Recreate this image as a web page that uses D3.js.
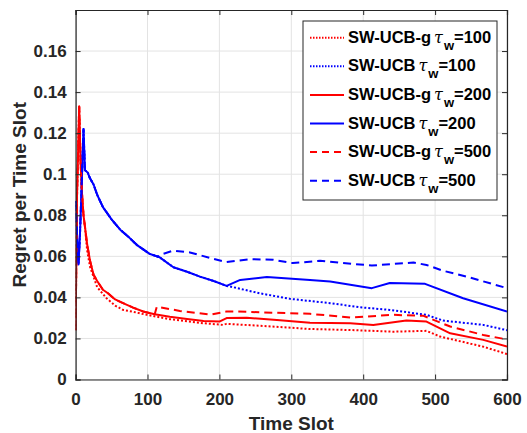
<!DOCTYPE html>
<html><head><meta charset="utf-8">
<script src="https://cdn.jsdelivr.net/npm/d3@7"></script>
<style>body{margin:0;background:#fff}</style>
</head><body>
<svg id="c" width="527" height="433"></svg>
<script>
// ---- data ----
const xTicks = [0,100,200,300,400,500,600];
const yTicks = [0,0.02,0.04,0.06,0.08,0.1,0.12,0.14,0.16];
const yTickLabels = ["0","0.02","0.04","0.06","0.08","0.1","0.12","0.14","0.16"];
const seriesNames = ["SW-UCB-g","SW-UCB","SW-UCB-g","SW-UCB","SW-UCB-g","SW-UCB"];
const windowSizes = ["100","100","200","200","500","500"];

// SW-UCB-g tau=100 (red dotted)
const gT100 = [0,2,5,7,9,11,13,16,20,25,30,43,55,66,80,99,131,178,205,210,256,326,382,442,488,507,567,600];
const gV100 = [0.024,0.09,0.133,0.105,0.09,0.08,0.0745,0.063,0.055,0.05,0.045,0.0396,0.036,0.0339,0.033,0.0315,0.0294,0.0274,0.0266,0.0271,0.0262,0.0246,0.0241,0.0233,0.0237,0.0209,0.016,0.0124];
// SW-UCB tau=100 (blue dotted)
const uT100 = [0,2,4,6,8,11,13,17,20,25,30,38,50,62,75,85,103,117,136,155,173,192,210,215,256,298,354,395,437,488,511,567,600];
const uV100 = [0.087,0.07,0.056,0.07,0.09,0.122,0.102,0.1007,0.098,0.095,0.09,0.084,0.078,0.073,0.069,0.0656,0.0612,0.0595,0.0547,0.0525,0.0501,0.048,0.0456,0.0453,0.042,0.0393,0.0372,0.0352,0.0339,0.0315,0.0287,0.0266,0.024];
// SW-UCB-g tau=200 (red solid)
const gT200 = [0,2,5,7,9,11,13,16,20,25,30,38,45,55,66,80,94,110,131,155,178,200,210,238,280,326,382,414,460,488,521,567,600];
const gV200 = [0.024,0.09,0.133,0.105,0.09,0.08,0.0745,0.066,0.058,0.051,0.048,0.0437,0.042,0.039,0.0372,0.035,0.0331,0.0318,0.0306,0.0295,0.0285,0.0282,0.0299,0.0301,0.029,0.0277,0.0274,0.0266,0.0287,0.0282,0.0225,0.0193,0.016];
// SW-UCB tau=200 (blue solid)
const uT200 = [0,2,4,6,8,11,13,17,20,25,30,38,50,62,75,85,103,117,136,155,173,192,210,229,266,326,354,412,437,486,539,600];
const uV200 = [0.087,0.07,0.056,0.07,0.09,0.122,0.102,0.1007,0.098,0.095,0.09,0.084,0.078,0.073,0.069,0.0656,0.0612,0.0595,0.0547,0.0525,0.0501,0.048,0.0456,0.0485,0.0499,0.0485,0.0477,0.0445,0.047,0.0466,0.0396,0.0331];
// SW-UCB-g tau=500 (red dashed)
const gT500 = [0,2,5,7,9,11,13,16,20,25,30,38,45,55,66,80,94,110,113,145,187,210,224,326,382,442,484,521,567,600];
const gV500 = [0.024,0.09,0.133,0.105,0.09,0.08,0.0745,0.066,0.058,0.051,0.048,0.0437,0.042,0.039,0.0372,0.035,0.0331,0.0318,0.0355,0.0334,0.0316,0.0331,0.0331,0.032,0.0302,0.0315,0.031,0.0258,0.0217,0.0195];
// SW-UCB tau=500 (blue dashed)
const uT500 = [0,2,4,6,8,11,13,17,20,25,30,38,50,62,75,85,103,115,117,136,159,191,210,243,275,302,340,412,470,488,511,548,600];
const uV500 = [0.087,0.07,0.056,0.07,0.09,0.122,0.102,0.1007,0.098,0.095,0.09,0.084,0.078,0.073,0.069,0.0656,0.0612,0.0598,0.0607,0.0628,0.0619,0.0588,0.0572,0.0586,0.0583,0.0567,0.0578,0.0555,0.057,0.0558,0.053,0.0497,0.0445];

const series = [
  {t:gT100, v:gV100, color:"#ff0000", dash:"2,2"},
  {t:uT100, v:uV100, color:"#0000ff", dash:"2,2"},
  {t:gT200, v:gV200, color:"#ff0000", dash:null},
  {t:uT200, v:uV200, color:"#0000ff", dash:null},
  {t:gT500, v:gV500, color:"#ff0000", dash:"8,5"},
  {t:uT500, v:uV500, color:"#0000ff", dash:"8,5"}
];

// ---- layout ----
const L=75.6, R=507, T=10, B=379.5;
const x = d3.scaleLinear().domain([0,600]).range([L,R]);
const y = d3.scaleLinear().domain([0,0.18]).range([B,T]);
const svg = d3.select("#c");
const axisColor="#262626";
const font="'Liberation Sans', Arial, sans-serif";

// grid
const g = svg.append("g");
g.selectAll(".gx").data(xTicks).join("line")
  .attr("x1",d=>x(d)).attr("x2",d=>x(d)).attr("y1",T).attr("y2",B)
  .attr("stroke","#e3e3e3").attr("stroke-width",1);
g.selectAll(".gy").data(yTicks).join("line")
  .attr("x1",L).attr("x2",R).attr("y1",d=>y(d)).attr("y2",d=>y(d))
  .attr("stroke","#e3e3e3").attr("stroke-width",1);

// clip
svg.append("clipPath").attr("id","clip").append("rect")
  .attr("x",L).attr("y",T).attr("width",R-L).attr("height",B-T);

const line = d3.line().x(d=>x(d[0])).y(d=>y(d[1]));
const lg = svg.append("g").attr("clip-path","url(#clip)");
series.forEach(s=>{
  const pts = s.t.map((t,i)=>[t,s.v[i]]);
  lg.append("path").datum(pts).attr("d",line)
    .attr("fill","none").attr("stroke",s.color).attr("stroke-width",2)
    .attr("stroke-linejoin","round")
    .attr("stroke-dasharray",s.dash);
});

// axes (MATLAB box style, ticks inside)
const tickLen=5;
const ax = svg.append("g");
const xb = d3.axisBottom(x).tickValues(xTicks).tickSize(-tickLen).tickPadding(tickLen+8).tickFormat(d3.format("d"));
const xt = d3.axisTop(x).tickValues(xTicks).tickSize(-tickLen).tickFormat("");
const yl = d3.axisLeft(y).tickValues(yTicks).tickSize(-tickLen).tickPadding(tickLen+4).tickFormat((d,i)=>yTickLabels[i]);
const yr = d3.axisRight(y).tickValues(yTicks).tickSize(-tickLen).tickFormat("");
ax.append("g").attr("transform",`translate(0,${B})`).call(xb);
ax.append("g").attr("transform",`translate(0,${T})`).call(xt);
ax.append("g").attr("transform",`translate(${L},0)`).call(yl);
ax.append("g").attr("transform",`translate(${R},0)`).call(yr);
ax.selectAll(".domain").attr("stroke",axisColor).attr("stroke-width",1.2);
ax.selectAll(".tick line").attr("stroke",axisColor);
ax.selectAll(".tick text").attr("fill",axisColor).attr("font-family",font)
  .attr("font-weight","bold").attr("font-size","17px");

// titles
svg.append("text").attr("x",(L+R)/2).attr("y",430).attr("text-anchor","middle")
  .attr("font-family",font).attr("font-weight","bold").attr("font-size","19px")
  .attr("fill",axisColor).text("Time Slot");
svg.append("text").attr("transform",`translate(26,${(T+B)/2}) rotate(-90)`)
  .attr("text-anchor","middle")
  .attr("font-family",font).attr("font-weight","bold").attr("font-size","19px")
  .attr("fill",axisColor).text("Regret per Time Slot");

// legend
const lgx=303, lgy=21, lgw=194, lgh=179;
const leg = svg.append("g");
leg.append("rect").attr("x",lgx).attr("y",lgy).attr("width",lgw).attr("height",lgh)
  .attr("fill","#fff").attr("stroke",axisColor).attr("stroke-width",1);
series.forEach((s,i)=>{
  const cy = 37.7 + i*28.6;
  leg.append("line").attr("x1",310).attr("x2",344).attr("y1",cy).attr("y2",cy)
    .attr("stroke",s.color).attr("stroke-width",2)
    .attr("stroke-dasharray", s.dash ? (s.dash==="2,2" ? "1.5,1.5" : "7,5") : null);
  const tx = leg.append("text").attr("x",348).attr("y",cy+5)
    .attr("font-family",font).attr("font-weight","bold").attr("font-size","16.5px")
    .attr("fill","#000");
  tx.append("tspan").text(seriesNames[i]);
  tx.append("tspan").attr("dx",3).attr("font-family","'DejaVu Serif', serif").attr("font-style","italic")
    .attr("font-weight","normal").attr("font-size","16px").text("\u03C4");
  tx.append("tspan").attr("dx",1).attr("dy",7).attr("font-size","13px").text("w");
  tx.append("tspan").attr("dy",-7).text("=" + windowSizes[i]);
});
</script>
</body></html>
